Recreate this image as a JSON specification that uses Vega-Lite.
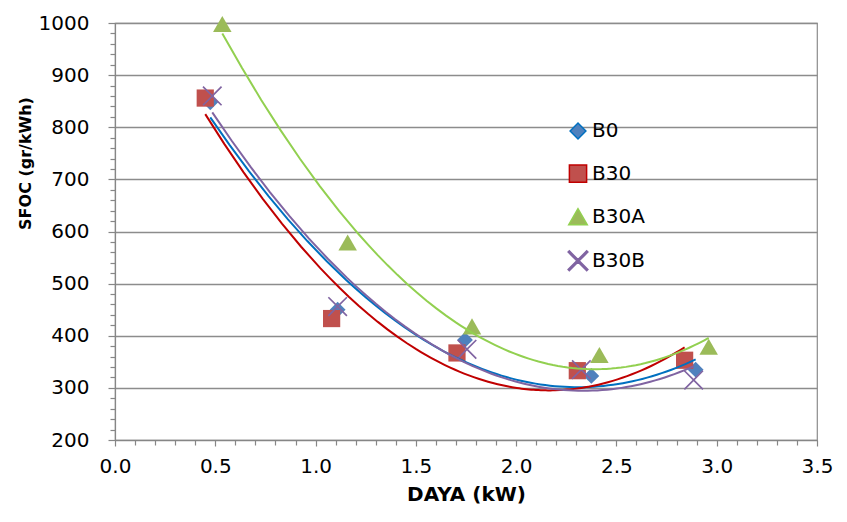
{
  "$schema": "https://vega.github.io/schema/vega-lite/v6.json",
  "width": 702,
  "height": 417,
  "autosize": {"type": "none"},
  "padding": {"left": 115, "top": 23, "right": 30, "bottom": 82},
  "background": "white",
  "config": {
    "font": "DejaVu Sans",
    "view": {"stroke": "#8c8c8c", "strokeWidth": 1.2},
    "axis": {"labelFont": "DejaVu Sans", "titleFont": "DejaVu Sans", "labelColor": "#000", "titleColor": "#000", "domainColor": "#868686", "tickColor": "#868686", "domainWidth": 1.2, "tickWidth": 1.2}
  },
  "data": {
    "values": [
      {"series": "B0", "daya": 0.475, "sfoc": 848},
      {"series": "B0", "daya": 1.11, "sfoc": 450},
      {"series": "B0", "daya": 1.745, "sfoc": 392},
      {"series": "B0", "daya": 2.375, "sfoc": 323},
      {"series": "B0", "daya": 2.895, "sfoc": 335},
      {"series": "B30", "daya": 0.45, "sfoc": 856},
      {"series": "B30", "daya": 1.08, "sfoc": 433},
      {"series": "B30", "daya": 1.705, "sfoc": 367},
      {"series": "B30", "daya": 2.305, "sfoc": 333},
      {"series": "B30", "daya": 2.84, "sfoc": 353},
      {"series": "B30A", "daya": 0.535, "sfoc": 998},
      {"series": "B30A", "daya": 1.16, "sfoc": 579},
      {"series": "B30A", "daya": 1.78, "sfoc": 418},
      {"series": "B30A", "daya": 2.415, "sfoc": 363},
      {"series": "B30A", "daya": 2.96, "sfoc": 379},
      {"series": "B30B", "daya": 0.485, "sfoc": 860},
      {"series": "B30B", "daya": 1.11, "sfoc": 456},
      {"series": "B30B", "daya": 1.755, "sfoc": 374},
      {"series": "B30B", "daya": 2.325, "sfoc": 335},
      {"series": "B30B", "daya": 2.885, "sfoc": 315}
    ]
  },
  "resolve": {"axis": {"x": "independent", "y": "independent"}},
  "layer": [
    {
      "mark": {"type": "point", "filled": true, "opacity": 1},
      "encoding": {
        "x": {
          "field": "daya", "type": "quantitative",
          "scale": {"domain": [0, 3.5], "nice": false, "zero": false},
          "axis": {
            "orient": "bottom",
            "title": "DAYA (kW)", "titleFontSize": 20, "titleFontWeight": "bold", "titlePadding": 8,
            "values": [0, 0.5, 1, 1.5, 2, 2.5, 3, 3.5], "format": ".1f",
            "labelFontSize": 20, "labelPadding": 10, "tickSize": 6, "grid": false,
            "labelFlush": false, "labelOverlap": false
          }
        },
        "y": {
          "field": "sfoc", "type": "quantitative",
          "scale": {"domain": [200, 1000], "nice": false, "zero": false},
          "axis": {
            "orient": "left",
            "title": "SFOC (gr/kWh)", "titleFontSize": 16, "titleFontWeight": "bold",
            "titleX": -90, "titleY": 140, "titleAngle": -90, "titleAlign": "center", "titleBaseline": "middle",
            "values": [200, 300, 400, 500, 600, 700, 800, 900, 1000], "format": "d",
            "labelFontSize": 20, "labelPadding": 19, "tickSize": 7,
            "grid": true, "gridColor": "#8c8c8c", "gridWidth": 1.3
          }
        },
        "color": {
          "field": "series", "type": "nominal",
          "scale": {"domain": ["B0", "B30", "B30A", "B30B"], "range": ["#4F81BD", "#C0504D", "#9BBB59", "#8064A2"]},
          "legend": {
            "orient": "none", "legendX": 452, "legendY": 98, "title": null,
            "labelFontSize": 20, "labelFont": "DejaVu Sans", "labelColor": "#000",
            "symbolSize": 250, "rowPadding": 19.6, "labelOffset": 3, "symbolOpacity": 1
          }
        },
        "shape": {
          "field": "series", "type": "nominal",
          "scale": {"domain": ["B0", "B30", "B30A", "B30B"], "range": ["diamond", "square", "triangle-up", "M-1,-0.88L-0.88,-1L0,-0.12L0.88,-1L1,-0.88L0.12,0L1,0.88L0.88,1L0,0.12L-0.88,1L-1,0.88L-0.12,0Z"]}
        },
        "size": {
          "field": "series", "type": "nominal",
          "scale": {"domain": ["B0", "B30", "B30A", "B30B"], "range": [250, 390, 370, 330]},
          "legend": null
        }
      }
    },
    {
      "transform": [
        {"regression": "sfoc", "on": "daya", "groupby": ["series"], "method": "poly", "order": 2}
      ],
      "mark": {"type": "line", "strokeWidth": 2},
      "encoding": {
        "x": {
          "field": "daya", "type": "quantitative",
          "axis": {
            "orient": "bottom", "title": null, "labels": false, "domain": false, "grid": false,
            "values": [0.1,0.2,0.3,0.4,0.6,0.7,0.8,0.9,1.1,1.2,1.3,1.4,1.6,1.7,1.8,1.9,2.1,2.2,2.3,2.4,2.6,2.7,2.8,2.9,3.1,3.2,3.3,3.4],
            "tickSize": 5
          }
        },
        "y": {
          "field": "sfoc", "type": "quantitative",
          "axis": {
            "orient": "left", "title": null, "labels": false, "domain": false, "grid": false,
            "values": [220,240,260,280,320,340,360,380,420,440,460,480,520,540,560,580,620,640,660,680,720,740,760,780,820,840,860,880,920,940,960,980],
            "tickSize": 5
          }
        },
        "stroke": {
          "field": "series", "type": "nominal",
          "scale": {"domain": ["B0", "B30", "B30A", "B30B"], "range": ["#0070C0", "#C00000", "#92D050", "#8064A2"]},
          "legend": null
        }
      }
    }
  ]
}
